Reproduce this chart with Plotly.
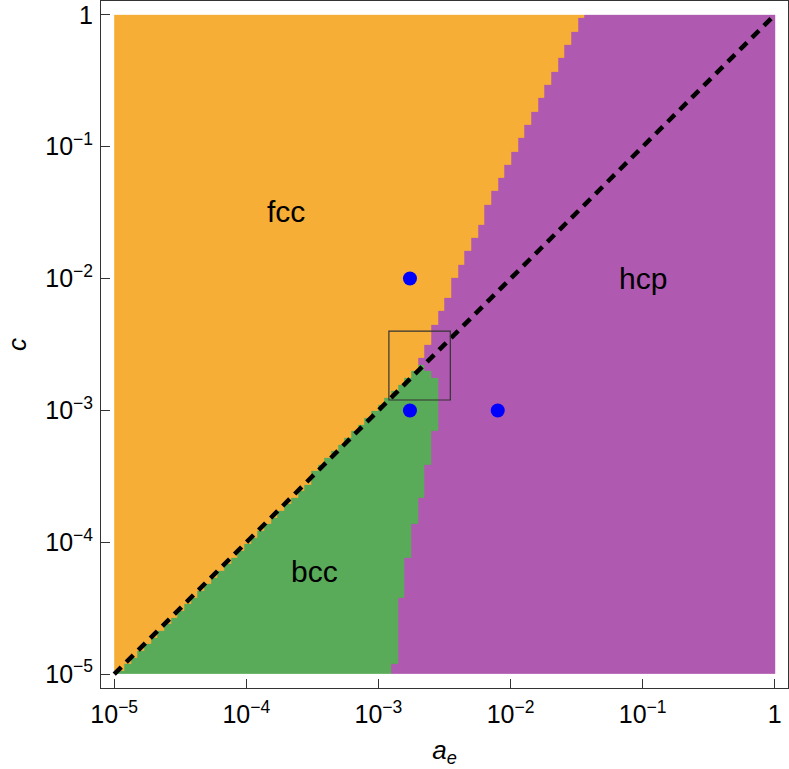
import numpy as np
import plotly.graph_objects as go

# phase map sampled on a 100 x 100 log grid, a_e and c from 1e-5 to 1
n_grid = 100
log_lo, log_hi = -5, 0

# first hcp column in each row of c (row 0 is c = 1e-5, row 99 is c = 1)
hcp_first_col = [
    42, 42, 43, 43, 43, 43, 43, 43, 43, 43,
    43, 43, 44, 44, 44, 44, 44, 44, 45, 45,
    45, 45, 45, 46, 46, 46, 46, 47, 47, 47,
    47, 47, 48, 48, 48, 48, 48, 49, 49, 49,
    49, 49, 49, 49, 49, 48, 47, 46, 47, 47,
    48, 48, 48, 49, 49, 50, 50, 51, 51, 51,
    52, 52, 53, 53, 54, 54, 55, 55, 56, 56,
    56, 57, 57, 58, 58, 59, 59, 60, 60, 61,
    61, 62, 62, 63, 63, 64, 64, 65, 65, 66,
    66, 67, 67, 68, 68, 69, 69, 70, 70, 71,
]

# last fcc column in the rows where bcc exists (rows 0-46)
fcc_last_col = [
    0, 1, 2, 3, 4, 5, 6, 7, 8, 9,
    10, 11, 12, 13, 14, 15, 16, 17, 18, 19,
    20, 21, 22, 23, 24, 25, 26, 27, 28, 29,
    29, 30, 31, 32, 33, 34, 35, 36, 37, 38,
    39, 40, 41, 42, 43, 44, 45,
]

# the three marked states
dot_ae = [1.732e-3, 1.732e-3, 8e-3]
dot_c = [1e-2, 1e-3, 1e-3]

# zoom box
box_ae = [1.2e-3, 3.5e-3]
box_c = [1.2e-3, 4e-3]

# c = a_e reference line
diag_ae = [1e-5, 1]
diag_c = [1e-5, 1]

phase_names = ["fcc", "hcp", "bcc"]
phase_ae = [2e-4, 1e-1, 3.3e-4]
phase_c = [3.2e-2, 1e-2, 6e-5]

tick_vals = [-5, -4, -3, -2, -1, 0]
tick_text = ["10<sup>\u22125</sup>", "10<sup>\u22124</sup>", "10<sup>\u22123</sup>",
             "10<sup>\u22122</sup>", "10<sup>\u22121</sup>", "1"]

ORANGE = "rgb(246,174,54)"
GREEN = "rgb(89,170,89)"
PURPLE = "rgb(176,89,176)"
FONT = "Liberation Sans, Arial, sans-serif"

# 0 = fcc, 1 = bcc, 2 = hcp
z = np.zeros((n_grid, n_grid), dtype=int)
for row in range(n_grid):
    z[row, hcp_first_col[row]:] = 2
    if row < len(fcc_last_col):
        z[row, fcc_last_col[row] + 1:hcp_first_col[row]] = 1

centers = np.linspace(log_lo, log_hi, n_grid)
edges = np.concatenate([[log_lo], (centers[:-1] + centers[1:]) / 2, [log_hi]])

fig = go.Figure()

fig.add_trace(go.Heatmap(
    x=edges, y=edges, z=z,
    zmin=0, zmax=2,
    colorscale=[[0, ORANGE], [0.5, GREEN], [1, PURPLE]],
    showscale=False, hoverinfo="skip",
))

fig.add_trace(go.Scatter(
    x=np.log10(diag_ae), y=np.log10(diag_c),
    mode="lines",
    line=dict(color="black", width=4.5, dash="10px,7px"),
    hoverinfo="skip",
))

fig.add_trace(go.Scatter(
    x=np.log10(dot_ae), y=np.log10(dot_c),
    mode="markers",
    marker=dict(color="rgb(0,0,255)", size=14),
    hoverinfo="skip",
))

fig.add_shape(
    type="rect",
    x0=np.log10(box_ae[0]), x1=np.log10(box_ae[1]),
    y0=np.log10(box_c[0]), y1=np.log10(box_c[1]),
    line=dict(color="#333333", width=1.2),
)

for name, ae, c in zip(phase_names, phase_ae, phase_c):
    fig.add_annotation(
        x=np.log10(ae), y=np.log10(c), text=name, showarrow=False,
        font=dict(family=FONT, size=30, color="black"),
    )

axis_common = dict(
    tickvals=tick_vals, ticktext=tick_text,
    ticks="inside", ticklen=9, tickwidth=1, tickcolor="#333333",
    showline=True, linecolor="#333333", linewidth=1, mirror=True,
    showgrid=False, zeroline=False, automargin=False,
    tickfont=dict(family=FONT, size=25, color="black"),
)

fig.update_layout(
    width=789, height=769,
    margin=dict(l=101, r=1, t=1, b=81),
    paper_bgcolor="white", plot_bgcolor="white",
    showlegend=False,
    xaxis=dict(range=[-5.1, 0.1],
               title=dict(text="<i>a</i><sub><i>e</i></sub>",
                          font=dict(family=FONT, size=26, color="black"),
                          standoff=13),
               ticklabelstandoff=4,
               **axis_common),
    yaxis=dict(range=[-5.105, 0.105],
               title=dict(text="<i>c</i>",
                          font=dict(family=FONT, size=26, color="black"),
                          standoff=11),
               ticklabelstandoff=2,
               **axis_common),
)

# page body has a default 8px margin; drop it so the figure sits at the corner
fig.write_html("out.html", config={"displayModeBar": False},
               post_script="document.body.style.margin='0';")
